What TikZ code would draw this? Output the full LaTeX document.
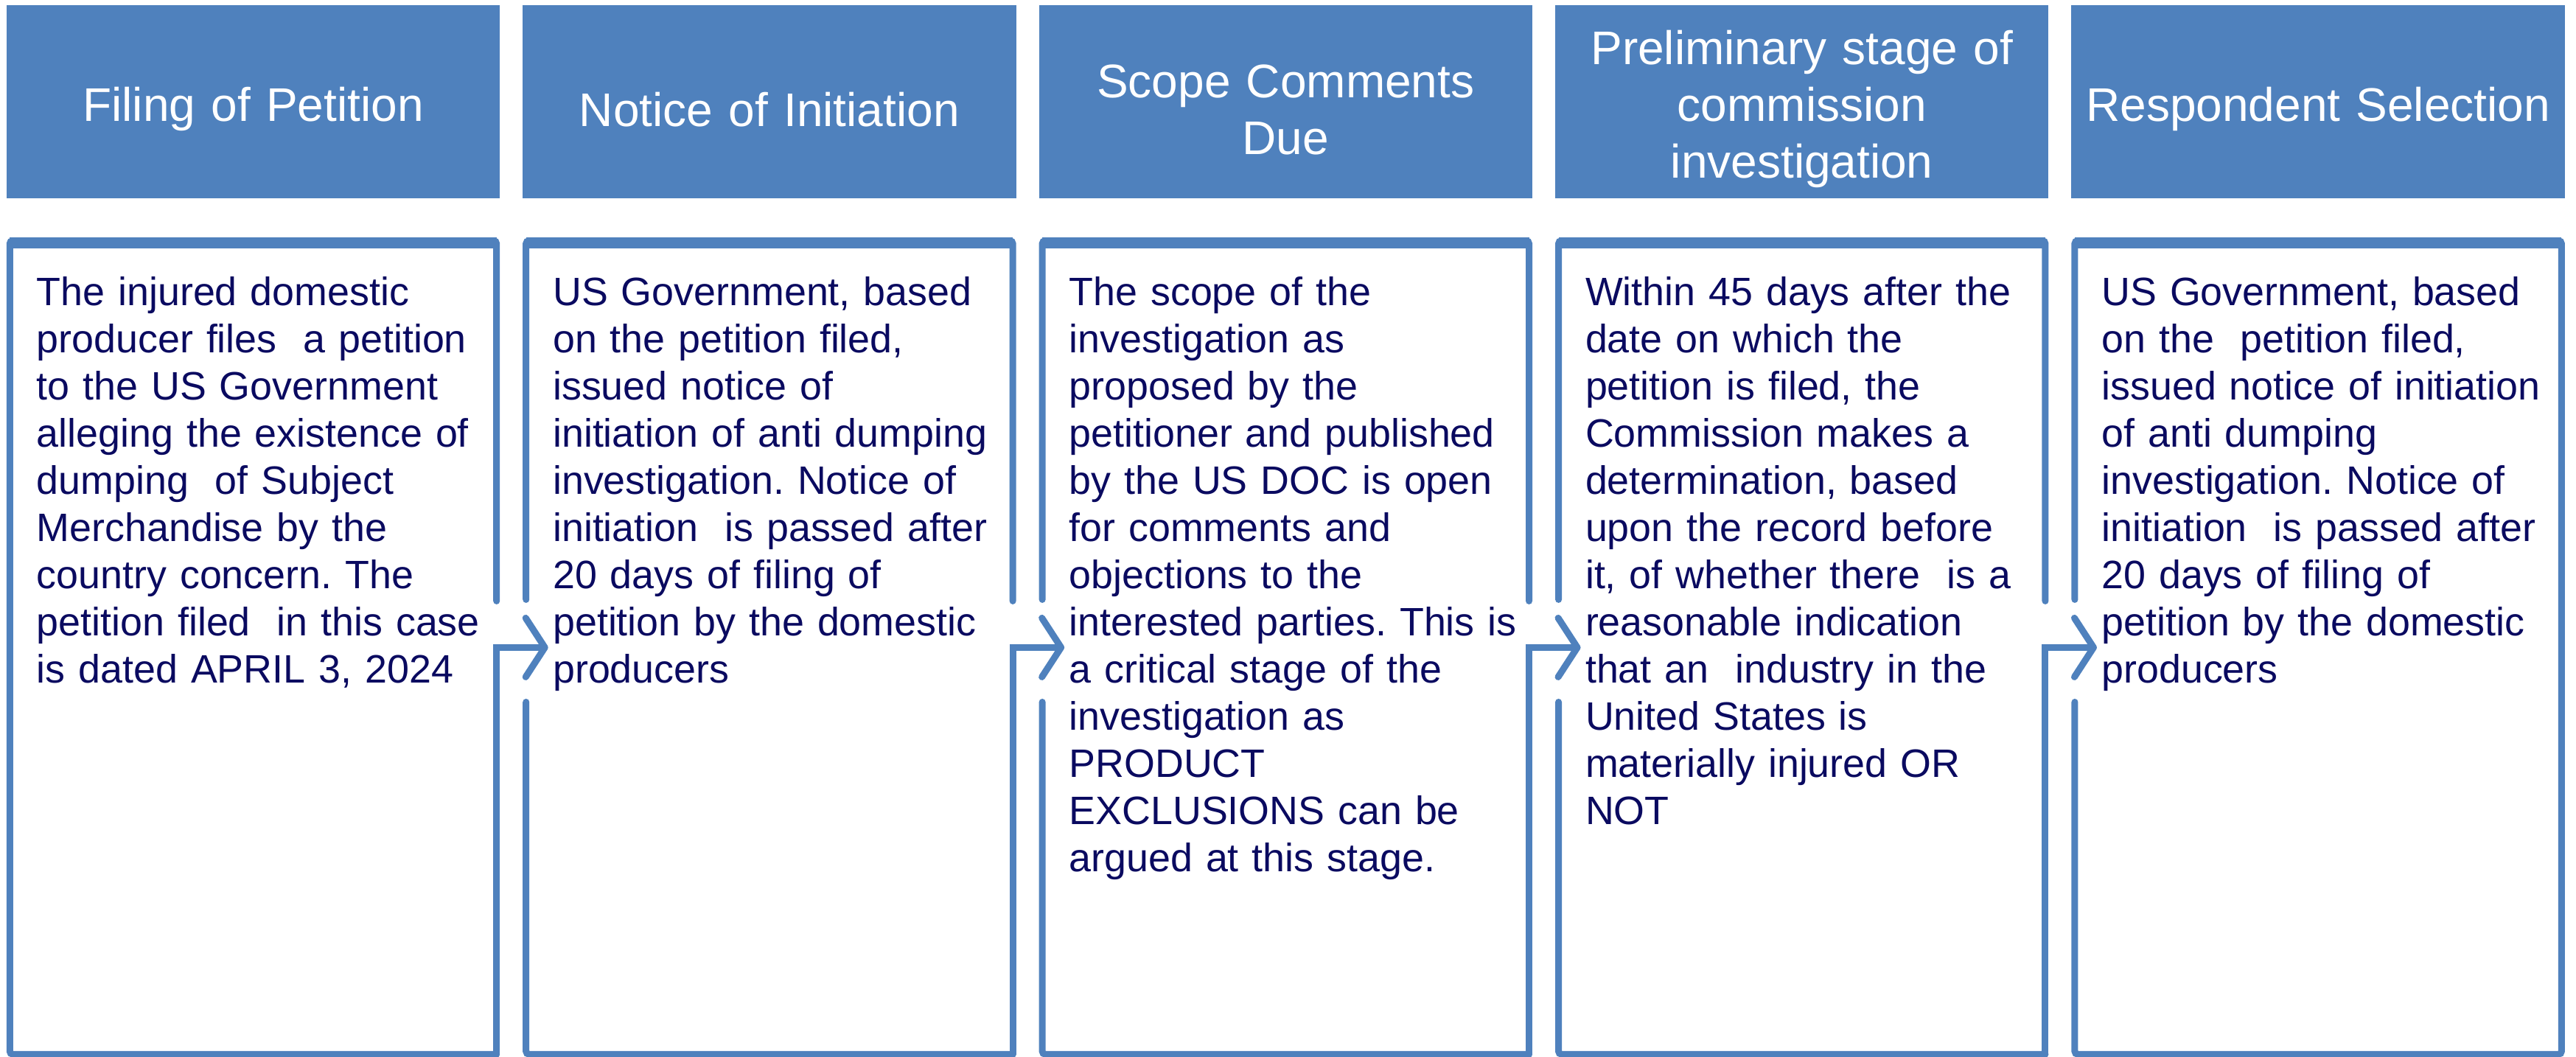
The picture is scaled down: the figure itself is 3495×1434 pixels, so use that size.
\documentclass[tikz,border=0pt]{standalone}
\usepackage{fontspec}
\setmainfont{Liberation Sans}
\usepackage{tikz}
\usetikzlibrary{positioning}
\usetikzlibrary{calc}
\usetikzlibrary{arrows.meta}
\definecolor{sblue}  {RGB}{79,129,189}
\definecolor{snavy}  {RGB}{10,10,96}
\frenchspacing
\tikzset{
    head/.style={fill=sblue, text=white, inner sep=0pt, outer sep=0pt,
             minimum width=6.69cm, minimum height=2.62cm, text width=6.4cm, align=center,
             text height=19pt, font=\fontsize{18.2pt}{21.9pt}\selectfont},
    body/.style={inner sep=0pt, outer sep=0pt, minimum width=6.6cm, minimum height=11.03cm},
    note/.style={text=snavy, inner sep=0pt, outer sep=0pt, anchor=base west,
             text width=6.3cm, align=left, font=\fontsize{15.3pt}{18.2pt}\selectfont},
    rim/.style={draw=sblue, line width=0.09cm, line cap=round, rounded corners=0.04cm},
    lid/.style={draw=sblue, line width=0.15cm},
    flow/.style={draw=sblue, line width=0.09cm, line cap=round,
             -{Straight Barb[length=0.26cm, width=0.8cm, round]}}
  }
\begin{document}
\begin{tikzpicture}[x=0.01cm, y=-0.01cm]
 \useasboundingbox (0,0) rectangle (3495,1434);
 %Stage titles
     \node[head] (h1) at (343.5,138) {Filing of Petition};
     \node[head, right=0.31cm of h1] (h2) {Notice of Initiation};
     \node[head, right=0.31cm of h2] (h3) {Scope Comments\\Due};
     \node[head, right=0.31cm of h3] (h4) {Preliminary stage of\\commission\\investigation};
     \node[head, right=0.31cm of h4] (h5) {Respondent Selection};
 %Stage boxes
     \node[body, below=0.575cm of h1] (b1) {};
     \node[body, below=0.575cm of h2] (b2) {};
     \node[body, below=0.575cm of h3] (b3) {};
     \node[body, below=0.575cm of h4] (b4) {};
     \node[body, below=0.575cm of h5] (b5) {};
 %Filing of Petition
     \draw[rim] ($(b1.east)+(0,-63)$) -- (b1.north east) -- (b1.north west) -- (b1.south west) -- (b1.south east);
     \draw[lid] ($(b1.north west)+(0,3)$) -- ($(b1.north east)+(0,3)$);
     \node[note] (t1) at ([shift={(36.5,87.5)}]b1.north west) {The injured domestic\\producer files~ a petition\\to the US Government\\alleging the existence of\\dumping~ of Subject\\Merchandise by the\\country concern. The\\petition filed~ in this case\\is dated APRIL 3, 2024};
 %Notice of Initiation
     \draw[rim] ($(b2.west)+(0,-65)$) -- (b2.north west) -- (b2.north east) -- ($(b2.east)+(0,-63)$);
     \draw[rim] ($(b2.west)+(0,74)$) -- (b2.south west) -- (b2.south east);
     \draw[lid] ($(b2.north west)+(0,3)$) -- ($(b2.north east)+(0,3)$);
     \node[note] (t2) at ([shift={(36.5,87.5)}]b2.north west) {US Government, based\\on the petition filed,\\issued notice of\\initiation of anti dumping\\investigation. Notice of\\initiation~ is passed after\\20 days of filing of\\petition by the domestic\\producers};
 %Scope Comments Due
     \draw[rim] ($(b3.west)+(0,-65)$) -- (b3.north west) -- (b3.north east) -- ($(b3.east)+(0,-63)$);
     \draw[rim] ($(b3.west)+(0,74)$) -- (b3.south west) -- (b3.south east);
     \draw[lid] ($(b3.north west)+(0,3)$) -- ($(b3.north east)+(0,3)$);
     \node[note] (t3) at ([shift={(36.5,87.5)}]b3.north west) {The scope of the\\investigation as\\proposed by the\\petitioner and published\\by the US DOC is open\\for comments and\\objections to the\\interested parties. This is\\a critical stage of the\\investigation as\\PRODUCT\\EXCLUSIONS can be\\argued at this stage.};
 %Preliminary stage
     \draw[rim] ($(b4.west)+(0,-65)$) -- (b4.north west) -- (b4.north east) -- ($(b4.east)+(0,-63)$);
     \draw[rim] ($(b4.west)+(0,74)$) -- (b4.south west) -- (b4.south east);
     \draw[lid] ($(b4.north west)+(0,3)$) -- ($(b4.north east)+(0,3)$);
     \node[note] (t4) at ([shift={(36.5,87.5)}]b4.north west) {Within 45 days after the\\date on which the\\petition is filed, the\\Commission makes a\\determination, based\\upon the record before\\it, of whether there~ is a\\reasonable indication\\that an~ industry in the\\United States is\\materially injured OR\\NOT};
 %Respondent Selection
     \draw[rim] ($(b5.west)+(0,-65)$) -- (b5.north west) -- (b5.north east) -- (b5.south east) -- (b5.south west) -- ($(b5.west)+(0,74)$);
     \draw[lid] ($(b5.north west)+(0,3)$) -- ($(b5.north east)+(0,3)$);
     \node[note] (t5) at ([shift={(36.5,87.5)}]b5.north west) {US Government, based\\on the~ petition filed,\\issued notice of initiation\\of anti dumping\\investigation. Notice of\\initiation~ is passed after\\20 days of filing of\\petition by the domestic\\producers};
 %Arrows
     \draw[flow] (b1.south east) -- (b1.east) -- ($(b2.west)+(30,0)$);
     \draw[flow] (b2.south east) -- (b2.east) -- ($(b3.west)+(30,0)$);
     \draw[flow] (b3.south east) -- (b3.east) -- ($(b4.west)+(30,0)$);
     \draw[flow] (b4.south east) -- (b4.east) -- ($(b5.west)+(30,0)$);
 \end{tikzpicture}
\end{document}
